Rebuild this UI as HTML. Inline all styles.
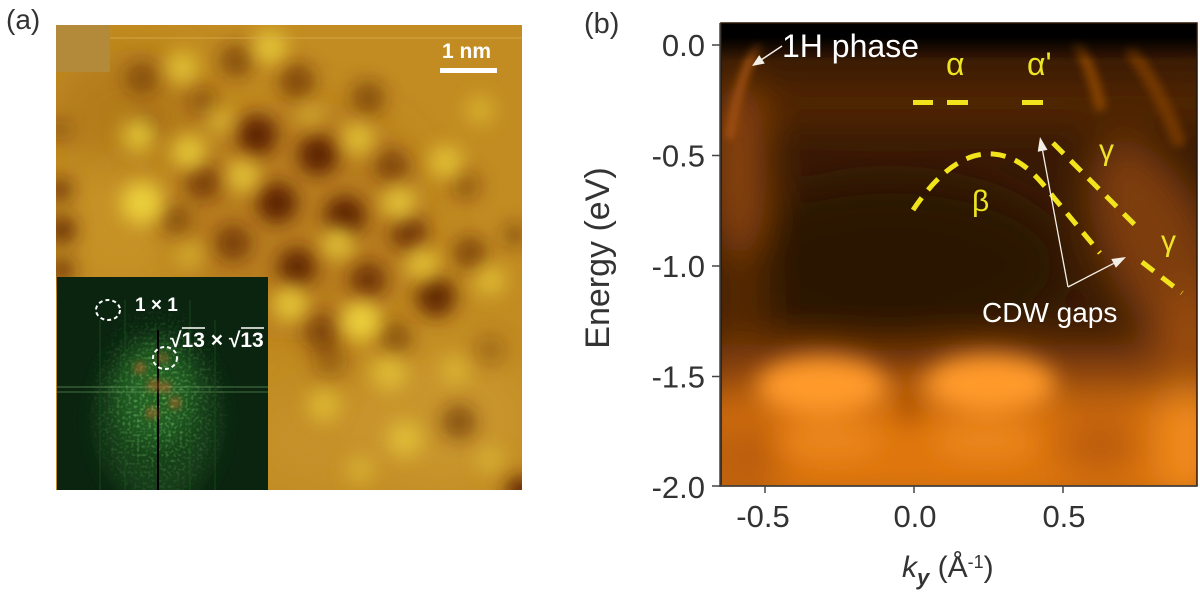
<!DOCTYPE html>
<html>
<head>
<meta charset="utf-8">
<style>
  html,body{margin:0;padding:0;background:#fff;}
  svg{display:block;}
  text{font-family:"Liberation Sans", Arial, sans-serif;}
</style>
</head>
<body>
<svg width="1200" height="592" viewBox="0 0 1200 592" xmlns="http://www.w3.org/2000/svg">
  <defs>
    <clipPath id="cs"><rect x="56" y="25" width="466" height="465"/></clipPath>
    <clipPath id="ca"><rect x="721" y="23" width="476" height="463"/></clipPath>
    <clipPath id="ci"><rect x="57" y="277" width="211" height="213"/></clipPath>
    <filter id="f4" x="-50%" y="-50%" width="200%" height="200%"><feGaussianBlur stdDeviation="4"/></filter>
    <filter id="f9" x="-50%" y="-50%" width="200%" height="200%"><feGaussianBlur stdDeviation="9"/></filter>
    <filter id="f12" x="-50%" y="-50%" width="200%" height="200%"><feGaussianBlur stdDeviation="12"/></filter>
    <filter id="f20" x="-50%" y="-50%" width="200%" height="200%"><feGaussianBlur stdDeviation="20"/></filter>
    <filter id="speck" x="0" y="0" width="100%" height="100%">
      <feTurbulence type="fractalNoise" baseFrequency="0.35" numOctaves="1" seed="3" result="n"/>
      <feColorMatrix in="n" type="matrix" values="0 0 0 0 0.25  0 0 0 0 0.75  0 0 0 0 0.2  0 2.2 0 0 -1.05"/>
    </filter>
    <linearGradient id="topfade" x1="0" y1="0" x2="0" y2="1">
      <stop offset="0" stop-color="#000" stop-opacity="1"/>
      <stop offset="1" stop-color="#000" stop-opacity="0"/>
    </linearGradient>
    <radialGradient id="inGlow" cx="0.5" cy="0.5" r="0.5">
      <stop offset="0" stop-color="#fff" stop-opacity="1"/>
      <stop offset="1" stop-color="#fff" stop-opacity="0"/>
    </radialGradient>
    <mask id="inMask"><ellipse cx="158" cy="405" rx="75" ry="105" fill="url(#inGlow)"/></mask>
  </defs>

  <!-- ============ PANEL (a) STM ============ -->
  <text x="6" y="29" font-size="28" fill="#333">(a)</text>
  <g clip-path="url(#cs)">
    <rect x="56" y="25" width="466" height="465" fill="#c28c22"/>
    <!-- broad variations -->
    <g filter="url(#f20)">
      <ellipse cx="130" cy="110" rx="80" ry="60" fill="#a8701a" opacity="0.55"/>
      <ellipse cx="300" cy="220" rx="130" ry="120" fill="#a86818" opacity="0.4"/>
      <ellipse cx="440" cy="420" rx="90" ry="70" fill="#cfa038" opacity="0.5"/>
      <ellipse cx="330" cy="440" rx="80" ry="50" fill="#c99630" opacity="0.5"/>
      <ellipse cx="120" cy="220" rx="50" ry="60" fill="#cc9a2a" opacity="0.5"/>
    </g>
    <!-- dark spots -->
    <g filter="url(#f9)" fill="#5a1e00">
      <circle cx="257" cy="135" r="20" opacity="0.95"/>
      <circle cx="318" cy="155" r="20" opacity="0.95"/>
      <circle cx="277" cy="203" r="20" opacity="0.95"/>
      <circle cx="345" cy="216" r="20" opacity="0.95"/>
      <circle cx="297" cy="267" r="19" opacity="0.9"/>
      <circle cx="436" cy="297" r="20" opacity="0.9"/>
      <circle cx="409" cy="233" r="18" opacity="0.75"/>
      <circle cx="368" cy="280" r="18" opacity="0.75"/>
      <circle cx="470" cy="253" r="17" opacity="0.6"/>
      <circle cx="392" cy="166" r="17" opacity="0.6"/>
      <circle cx="203" cy="182" r="18" opacity="0.65"/>
      <circle cx="233" cy="243" r="18" opacity="0.65"/>
      <circle cx="176" cy="220" r="16" opacity="0.5"/>
      <circle cx="297" cy="81" r="18" opacity="0.6"/>
      <circle cx="368" cy="98" r="17" opacity="0.55"/>
      <circle cx="236" cy="61" r="17" opacity="0.55"/>
      <circle cx="142" cy="78" r="17" opacity="0.5"/>
      <circle cx="321" cy="331" r="18" opacity="0.6"/>
      <circle cx="395" cy="338" r="17" opacity="0.5"/>
      <circle cx="459" cy="422" r="18" opacity="0.55"/>
      <circle cx="145" cy="128" r="15" opacity="0.4"/>
      <circle cx="203" cy="101" r="15" opacity="0.4"/>
      <circle cx="466" cy="186" r="15" opacity="0.4"/>
      <circle cx="330" cy="360" r="18" opacity="0.35"/>
      <circle cx="490" cy="350" r="15" opacity="0.3"/>
      <circle cx="62" cy="230" r="14" opacity="0.85"/>
      <circle cx="60" cy="190" r="12" opacity="0.75"/>
      <circle cx="62" cy="270" r="12" opacity="0.75"/>
      <circle cx="60" cy="130" r="10" opacity="0.5"/>
      <circle cx="522" cy="492" r="16" opacity="0.95"/>
      <circle cx="515" cy="235" r="12" opacity="0.5"/>
    </g>
    <!-- bright spots -->
    <g filter="url(#f9)" fill="#ecd23c">
      <circle cx="142" cy="203" r="21" opacity="0.95"/>
      <circle cx="189" cy="152" r="18" opacity="0.8"/>
      <circle cx="139" cy="135" r="18" opacity="0.8"/>
      <circle cx="182" cy="68" r="17" opacity="0.7"/>
      <circle cx="270" cy="47" r="17" opacity="0.75"/>
      <circle cx="361" cy="321" r="20" opacity="0.95"/>
      <circle cx="290" cy="304" r="18" opacity="0.8"/>
      <circle cx="399" cy="203" r="18" opacity="0.75"/>
      <circle cx="243" cy="176" r="17" opacity="0.75"/>
      <circle cx="338" cy="243" r="17" opacity="0.75"/>
      <circle cx="358" cy="139" r="17" opacity="0.7"/>
      <circle cx="446" cy="162" r="17" opacity="0.7"/>
      <circle cx="422" cy="264" r="17" opacity="0.7"/>
      <circle cx="490" cy="280" r="16" opacity="0.6"/>
      <circle cx="389" cy="372" r="18" opacity="0.6"/>
      <circle cx="324" cy="405" r="17" opacity="0.55"/>
      <circle cx="405" cy="439" r="18" opacity="0.6"/>
      <circle cx="220" cy="120" r="15" opacity="0.5"/>
      <circle cx="480" cy="110" r="15" opacity="0.45"/>
      <circle cx="310" cy="115" r="14" opacity="0.4"/>
      <circle cx="190" cy="255" r="15" opacity="0.45"/>
      <circle cx="455" cy="370" r="15" opacity="0.45"/>
      <circle cx="490" cy="460" r="14" opacity="0.4"/>
      <circle cx="360" cy="470" r="15" opacity="0.4"/>
    </g>
    <line x1="110" y1="38" x2="522" y2="38" stroke="#d8b050" stroke-width="1.5" opacity="0.5"/>
    <rect x="56" y="25" width="54" height="47" fill="#b3893a"/>
  </g>
  <!-- scale bar -->
  <text x="442" y="58" font-size="21" font-weight="bold" fill="#fff">1 nm</text>
  <rect x="440" y="68" width="57" height="5" fill="#fff"/>

  <!-- inset FFT -->
  <g clip-path="url(#ci)">
    <rect x="57" y="277" width="211" height="213" fill="#0a2410"/>
    <g filter="url(#f12)">
      <ellipse cx="158" cy="420" rx="60" ry="85" fill="#1c501a" opacity="0.6"/>
      <ellipse cx="155" cy="395" rx="38" ry="50" fill="#2e7a2a" opacity="0.55"/>
    </g>
    <rect x="57" y="277" width="211" height="213" filter="url(#speck)" mask="url(#inMask)" opacity="0.9"/>
    <g stroke-width="1" opacity="0.6">
      <line x1="57" y1="387" x2="268" y2="387" stroke="#7ab070"/>
      <line x1="57" y1="392" x2="268" y2="392" stroke="#6aa060"/>
      <line x1="100" y1="320" x2="100" y2="490" stroke="#1e5a1e"/>
      <line x1="125" y1="300" x2="125" y2="490" stroke="#1e5a1e"/>
      <line x1="190" y1="300" x2="190" y2="490" stroke="#1e5a1e"/>
      <line x1="215" y1="320" x2="215" y2="490" stroke="#1e5a1e"/>
    </g>
    <line x1="158" y1="330" x2="158" y2="490" stroke="#000" stroke-width="2"/>
    <g fill="#c8602a" opacity="0.85" filter="url(#f4)">
      <circle cx="140" cy="368" r="5"/>
      <circle cx="153" cy="385" r="5"/>
      <circle cx="165" cy="387" r="5"/>
      <circle cx="175" cy="403" r="5"/>
      <circle cx="152" cy="413" r="5"/>
      <circle cx="163" cy="358" r="4"/>
    </g>
    <ellipse cx="108" cy="310" rx="12" ry="10" fill="none" stroke="#fff" stroke-width="2" stroke-dasharray="4 3"/>
    <ellipse cx="165" cy="358" rx="12" ry="11" fill="none" stroke="#fff" stroke-width="2" stroke-dasharray="4 3"/>
  </g>
  <text x="135" y="311" font-size="19" font-weight="bold" fill="#fff">1 × 1</text>
  <text x="170" y="347" font-size="21" font-weight="bold" fill="#fff">√13 × √13</text>
  <line x1="182" y1="328" x2="205" y2="328" stroke="#fff" stroke-width="1.5"/>
  <line x1="241" y1="328" x2="264" y2="328" stroke="#fff" stroke-width="1.5"/>

  <!-- ============ PANEL (b) ARPES ============ -->
  <text x="584" y="33" font-size="29" fill="#333">(b)</text>
  <g clip-path="url(#ca)">
    <rect x="721" y="23" width="476" height="463" fill="#381a04"/>
    <g filter="url(#f20)">
      <rect x="690" y="395" width="540" height="120" fill="#de760e"/>
      <rect x="690" y="345" width="540" height="52" fill="#8a4208"/>
      <ellipse cx="745" cy="458" rx="38" ry="40" fill="#b85c08"/>
      <ellipse cx="1100" cy="445" rx="45" ry="30" fill="#b85a08"/>
      <ellipse cx="1190" cy="440" rx="30" ry="60" fill="#f28c1c"/>
      <ellipse cx="890" cy="265" rx="175" ry="85" fill="#2a1202"/>
      <rect x="760" y="82" width="460" height="42" fill="#552806"/>
      <ellipse cx="1160" cy="250" rx="55" ry="120" fill="#7e3e08" transform="rotate(-25 1160 250)"/>
      <ellipse cx="1190" cy="340" rx="30" ry="50" fill="#9a4c08"/>
      <ellipse cx="738" cy="170" rx="28" ry="95" fill="#8c4508"/>
      <ellipse cx="740" cy="300" rx="25" ry="50" fill="#5a2a05"/>
    </g>
    <g filter="url(#f12)">
      <ellipse cx="822" cy="386" rx="66" ry="30" fill="#ff9a2c"/>
      <ellipse cx="990" cy="384" rx="66" ry="30" fill="#ff9a2c"/>
      <ellipse cx="910" cy="398" rx="11" ry="28" fill="#b05406"/>
      <ellipse cx="830" cy="442" rx="52" ry="18" fill="#ee8a20" opacity="0.8"/>
      <ellipse cx="985" cy="442" rx="52" ry="18" fill="#ee8a20" opacity="0.8"/>
    </g>
    <g filter="url(#f4)" fill="none" stroke-linecap="round">
      <path d="M758,44 Q738,80 730,135" stroke="#a4520c" stroke-width="9" opacity="0.9"/>
      <path d="M1078,44 Q1092,70 1100,105" stroke="#8e4808" stroke-width="12" opacity="0.8"/>
      <path d="M1132,52 Q1160,90 1178,140" stroke="#7a3c08" stroke-width="14" opacity="0.8"/>
    </g>
    <rect x="721" y="23" width="476" height="15" fill="#000"/>
    <rect x="721" y="37" width="476" height="24" fill="url(#topfade)"/>
  </g>
  <rect x="721" y="23" width="476" height="463" fill="none" stroke="#2a1606" stroke-width="1.5"/>

  <!-- axes -->
  <g stroke="#444" stroke-width="1.5">
    <line x1="720" y1="23" x2="720" y2="487"/>
    <line x1="712" y1="486" x2="1197" y2="486"/>
    <line x1="712" y1="45" x2="720" y2="45"/>
    <line x1="712" y1="155.5" x2="720" y2="155.5"/>
    <line x1="712" y1="266" x2="720" y2="266"/>
    <line x1="712" y1="376.5" x2="720" y2="376.5"/>
    <line x1="765" y1="486" x2="765" y2="493"/>
    <line x1="914" y1="486" x2="914" y2="493"/>
    <line x1="1063" y1="486" x2="1063" y2="493"/>
  </g>
  <g font-size="31" fill="#333" text-anchor="end">
    <text x="705" y="56">0.0</text>
    <text x="705" y="166.5">-0.5</text>
    <text x="705" y="277">-1.0</text>
    <text x="705" y="387.5">-1.5</text>
    <text x="705" y="498">-2.0</text>
  </g>
  <g font-size="31" fill="#333" text-anchor="middle">
    <text x="763" y="527">-0.5</text>
    <text x="915" y="527">0.0</text>
    <text x="1064" y="527">0.5</text>
  </g>
  <text transform="translate(609,258) rotate(-90)" font-size="34" fill="#333" text-anchor="middle">Energy (eV)</text>
  <text x="902" y="577" font-size="30" fill="#333"><tspan font-style="italic">k</tspan><tspan font-style="italic" font-weight="bold" font-size="22" dy="8">y</tspan><tspan dy="-8"> (Å</tspan><tspan font-size="18" dy="-9">-1</tspan><tspan dy="9">)</tspan></text>

  <!-- yellow dashed guides -->
  <g fill="#f2e41c">
    <rect x="913" y="100" width="20" height="5"/>
    <rect x="947" y="100" width="21" height="5"/>
    <rect x="1022" y="100" width="21" height="5"/>
  </g>
  <g fill="none" stroke="#f2e41c" stroke-width="5" stroke-dasharray="15 10">
    <path d="M913,210 C938,173 964,152 993,154 C1020,156 1036,175 1055,199 L1100,253"/>
    <path d="M1053,143 L1137,227"/>
    <path d="M1142,262 L1182,293"/>
  </g>
  <g fill="#ece424">
    <text x="946" y="75" font-size="32">α</text>
    <text x="1027" y="75" font-size="32">α'</text>
    <text x="972" y="211" font-size="30">β</text>
    <text x="1099" y="160" font-size="30">γ</text>
    <text x="1161" y="251" font-size="30">γ</text>
  </g>

  <!-- white annotations -->
  <text x="782" y="57" font-size="32" fill="#fff">1H phase</text>
  <line x1="782" y1="46" x2="761" y2="60" stroke="#f4efe6" stroke-width="1.5"/>
  <polygon points="752,66 764.8,63.5 759.2,55.1" fill="#f4efe6"/>

  <line x1="1068" y1="287" x2="1042.6" y2="150.8" stroke="#f4efe6" stroke-width="1.3"/>
  <polygon points="1040,137 1047.5,149.9 1037.7,151.7" fill="#f4efe6"/>
  <line x1="1068" y1="287" x2="1113.6" y2="263.4" stroke="#f4efe6" stroke-width="1.3"/>
  <polygon points="1126,257 1115.9,267.8 1111.3,259" fill="#f4efe6"/>
  <text x="982" y="322" font-size="28" fill="#fff">CDW gaps</text>
</svg>
</body>
</html>
